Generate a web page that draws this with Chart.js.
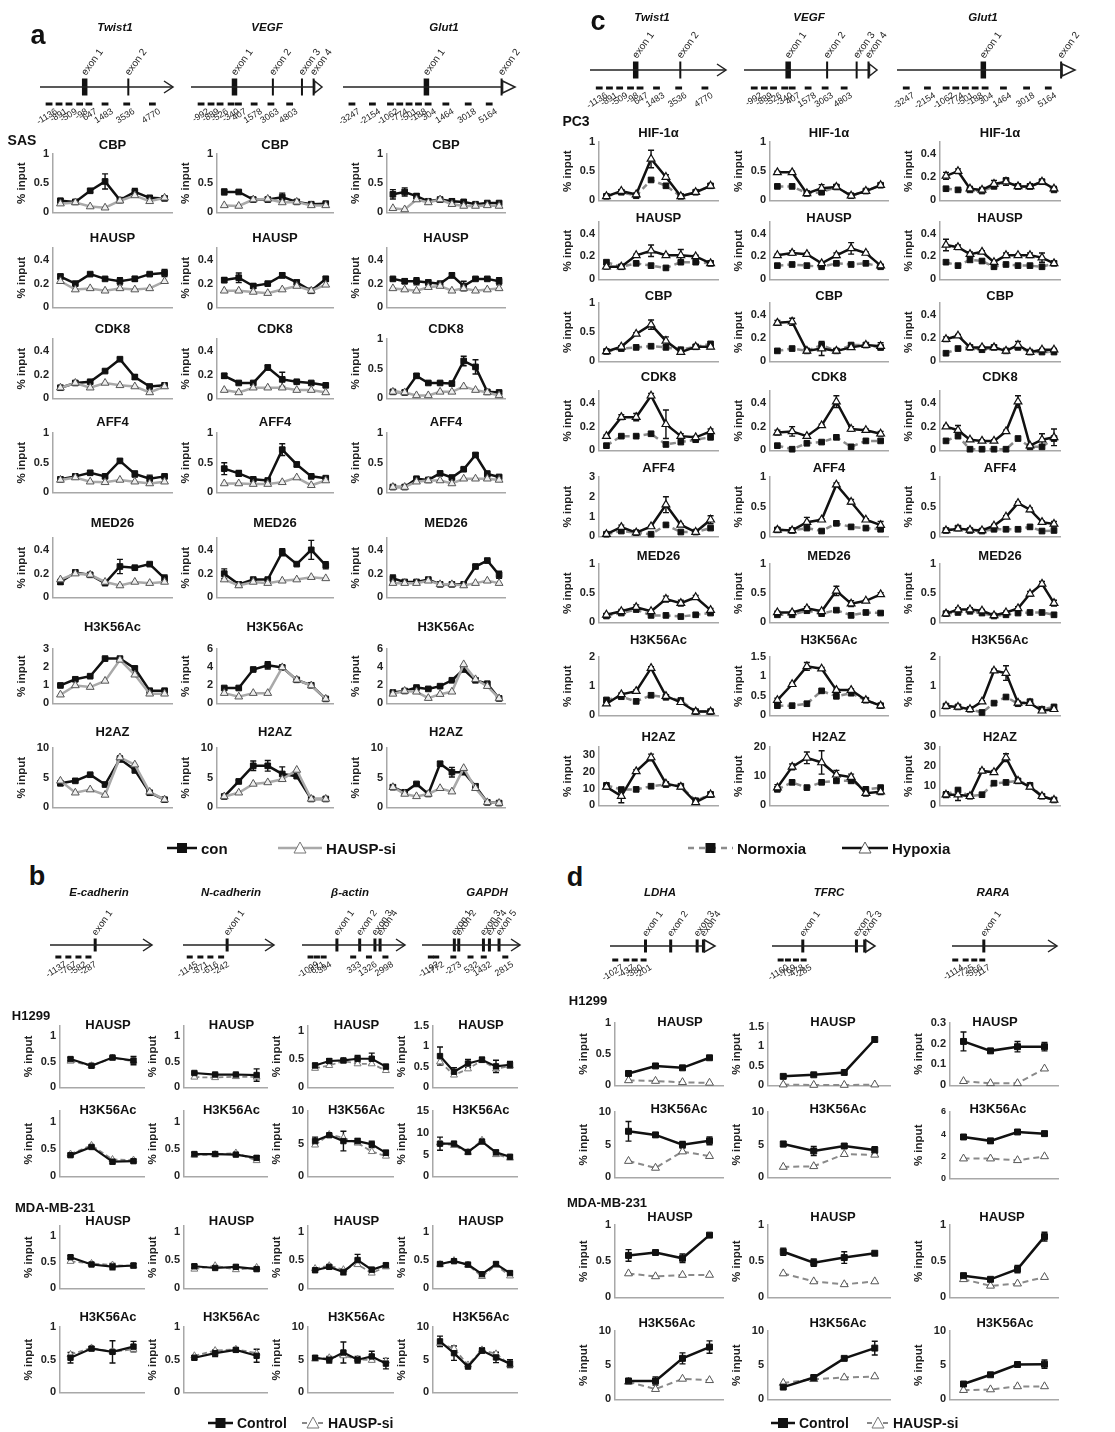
<!DOCTYPE html>
<html>
<head>
<meta charset="utf-8">
<script src="https://cdn.jsdelivr.net/npm/chart.js@4.4.1/dist/chart.umd.min.js"></script>
<style>
  body { margin: 0; background: #fff; }
  #page { position: relative; width: 1115px; height: 1432px; overflow: hidden; background: #fff;
          font-family: "Liberation Sans", Arial, Helvetica, sans-serif; color: #111; }
  .lbl { position: absolute; font-weight: bold; white-space: nowrap; line-height: 1; }
  canvas { position: absolute; }
</style>
</head>
<body>
<div id="page"></div>
<script>
// ---------- panel a : SAS, con vs HAUSP-si ----------
const aGenes = ['Twist1', 'VEGF', 'Glut1'];
const aTargets = ['CBP', 'HAUSP', 'CDK8', 'AFF4', 'MED26', 'H3K56Ac', 'H2AZ'];

const aCBPcon = [[0.2,0.18,0.37,0.53,0.21,0.35,0.25,0.24],[0.35,0.35,0.22,0.22,0.26,0.18,0.14,0.15],[0.31,0.35,0.28,0.19,0.22,0.19,0.18,0.14,0.16,0.16]];
const aCBPsi = [[0.15,0.17,0.1,0.08,0.2,0.29,0.19,0.25],[0.12,0.11,0.22,0.23,0.17,0.18,0.12,0.12],[0.07,0.05,0.22,0.17,0.22,0.14,0.11,0.11,0.12,0.11]];
const aCBPerr = [[0.03,0.02,0.03,0.13,0.02,0.06,0.03,0.03],[0.05,0.02,0.02,0.02,0.07,0.02,0.02,0.02],[0.08,0.07,0.04,0.02,0.02,0.04,0.03,0.02,0.02,0.02]];

const aHAUSPcon = [[0.26,0.2,0.28,0.24,0.22,0.24,0.28,0.29],[0.23,0.25,0.18,0.2,0.27,0.21,0.14,0.24],[0.24,0.22,0.22,0.21,0.2,0.27,0.18,0.24,0.24,0.22]];
const aHAUSPsi = [[0.22,0.15,0.16,0.14,0.16,0.15,0.16,0.22],[0.14,0.14,0.13,0.12,0.15,0.18,0.14,0.19],[0.16,0.15,0.14,0.17,0.18,0.14,0.16,0.14,0.15,0.16]];
const aHAUSPerr = [[0.02,0.01,0.01,0.01,0.03,0.02,0.01,0.03],[0.02,0.04,0.02,0.01,0.02,0.02,0.01,0.02],[0.01,0.02,0.03,0.02,0.01,0.02,0.04,0.01,0.01,0.03]];

const aCDK8con = [[0.09,0.13,0.14,0.23,0.33,0.18,0.1,0.11],[0.19,0.13,0.13,0.26,0.16,0.14,0.13,0.11],[0.11,0.1,0.38,0.26,0.26,0.25,0.63,0.53,0.11,0.1]];
const aCDK8si = [[0.09,0.13,0.09,0.13,0.11,0.1,0.05,0.1],[0.07,0.05,0.09,0.09,0.09,0.07,0.07,0.05],[0.11,0.1,0.05,0.05,0.11,0.11,0.2,0.14,0.1,0.05]];
const aCDK8err = [[0.01,0.01,0.01,0.01,0.01,0.02,0.01,0.01],[0.02,0.01,0.01,0.02,0.06,0.01,0.01,0.01],[0.02,0.02,0.03,0.02,0.02,0.02,0.08,0.12,0.02,0.02]];

const aAFF4con = [[0.22,0.27,0.33,0.27,0.53,0.31,0.23,0.27],[0.4,0.32,0.22,0.2,0.72,0.47,0.27,0.24],[0.09,0.09,0.23,0.21,0.32,0.25,0.39,0.63,0.31,0.26]];
const aAFF4si = [[0.21,0.25,0.18,0.17,0.21,0.18,0.15,0.18],[0.15,0.15,0.14,0.14,0.17,0.25,0.12,0.2],[0.09,0.09,0.18,0.2,0.2,0.15,0.23,0.23,0.23,0.21]];
const aAFF4err = [[0.02,0.02,0.03,0.02,0.03,0.05,0.06,0.02],[0.1,0.05,0.02,0.02,0.1,0.04,0.02,0.02],[0.01,0.01,0.02,0.02,0.02,0.02,0.02,0.03,0.05,0.02]];

const aMED26con = [[0.13,0.21,0.19,0.12,0.26,0.25,0.28,0.16],[0.2,0.11,0.15,0.15,0.38,0.28,0.4,0.27],[0.16,0.13,0.13,0.15,0.11,0.11,0.11,0.26,0.31,0.19]];
const aMED26si = [[0.15,0.2,0.19,0.13,0.1,0.13,0.12,0.13],[0.15,0.1,0.13,0.12,0.14,0.15,0.17,0.16],[0.12,0.12,0.12,0.14,0.11,0.11,0.1,0.12,0.14,0.12]];
const aMED26err = [[0.02,0.02,0.01,0.01,0.06,0.01,0.01,0.03],[0.04,0.01,0.01,0.01,0.03,0.01,0.08,0.03],[0.03,0.01,0.01,0.01,0.01,0.01,0.01,0.01,0.01,0.03]];

const aH3con = [[0.99,1.33,1.5,2.47,2.47,1.93,0.7,0.7],[1.7,1.7,3.74,4.2,3.97,2.6,2.0,0.5],[1.2,1.37,1.75,1.6,1.9,2.55,3.74,2.55,2.17,0.55]];
const aH3si = [[0.48,0.99,0.9,1.24,2.4,1.58,0.53,0.53],[1.13,0.74,1.13,1.13,3.97,2.6,1.97,0.5],[1.05,1.37,1.28,0.58,1.02,1.28,4.3,2.65,1.9,0.55]];
const aH3err = [[0.05,0.05,0.05,0.05,0.05,0.1,0.05,0.05],[0.1,0.1,0.1,0.4,0.2,0.1,0.1,0.1],[0.1,0.1,0.1,0.1,0.1,0.1,0.2,0.1,0.1,0.1]];

const aH2AZcon = [[4.05,4.47,5.5,3.85,8.15,6.3,2.47,1.3],[1.84,4.37,7.0,7.0,5.63,5.26,1.42,1.42],[3.4,2.54,3.95,2.26,7.34,5.93,5.93,3.56,0.85,0.73]];
const aH2AZsi = [[4.47,2.47,3.0,2.1,8.4,7.2,2.6,1.3],[1.84,2.47,3.95,4.2,4.73,6.3,1.42,1.42],[3.4,2.26,1.86,2.26,3.22,2.65,6.6,3.22,0.85,0.73]];
const aH2AZerr = [[0.2,0.2,0.2,0.2,0.5,0.5,0.2,0.2],[0.2,0.2,0.8,0.9,1.2,0.3,0.2,0.2],[0.3,0.2,0.2,0.2,0.4,0.8,0.3,0.3,0.2,0.2]];

const aYMax = [[1,1,1],[0.5,0.5,0.5],[0.5,0.5,1],[1,1,1],[0.5,0.5,0.5],[3,6,6],[10,10,10]];
const aYStep = [[0.5,0.5,0.5],[0.2,0.2,0.2],[0.2,0.2,0.5],[0.5,0.5,0.5],[0.2,0.2,0.2],[1,2,2],[5,5,5]];

// ---------- panel c : PC3, Normoxia vs Hypoxia ----------
const cTargets = ['HIF-1α', 'HAUSP', 'CBP', 'CDK8', 'AFF4', 'MED26', 'H3K56Ac', 'H2AZ'];

const cHIFhyp = [[0.07,0.16,0.1,0.71,0.4,0.07,0.14,0.25],[0.48,0.48,0.12,0.21,0.23,0.08,0.16,0.26],[0.21,0.25,0.1,0.09,0.14,0.16,0.12,0.12,0.16,0.1]];
const cHIFnorm = [[0.07,0.14,0.08,0.35,0.25,0.07,0.14,0.25],[0.24,0.24,0.12,0.14,0.23,0.08,0.16,0.26],[0.1,0.09,0.09,0.08,0.12,0.17,0.12,0.12,0.16,0.09]];
const cHIFerr = [[0.02,0.02,0.02,0.15,0.04,0.02,0.02,0.03],[0.02,0.02,0.02,0.06,0.03,0.02,0.02,0.02],[0.03,0.02,0.02,0.02,0.03,0.03,0.02,0.02,0.02,0.02]];

const cHAUSPhyp = [[0.11,0.11,0.21,0.25,0.21,0.21,0.2,0.14],[0.21,0.23,0.22,0.14,0.21,0.27,0.23,0.12],[0.3,0.28,0.22,0.24,0.15,0.21,0.21,0.21,0.19,0.14]];
const cHAUSPnorm = [[0.15,0.11,0.14,0.12,0.1,0.15,0.15,0.14],[0.12,0.13,0.12,0.11,0.14,0.13,0.14,0.11],[0.15,0.12,0.17,0.16,0.11,0.13,0.12,0.12,0.11,0.14]];
const cHAUSPerr = [[0.02,0.01,0.01,0.05,0.01,0.05,0.01,0.02],[0.01,0.02,0.01,0.01,0.02,0.05,0.01,0.01],[0.05,0.02,0.02,0.01,0.01,0.02,0.01,0.02,0.04,0.01]];

const cCBPhyp = [[0.17,0.25,0.47,0.63,0.35,0.16,0.25,0.25],[0.33,0.34,0.09,0.11,0.09,0.12,0.14,0.13],[0.19,0.22,0.12,0.12,0.12,0.09,0.14,0.08,0.1,0.1]];
const cCBPnorm = [[0.17,0.22,0.24,0.26,0.24,0.2,0.25,0.3],[0.09,0.11,0.09,0.14,0.09,0.14,0.14,0.12],[0.07,0.11,0.12,0.1,0.12,0.09,0.12,0.08,0.08,0.08]];
const cCBPerr = [[0.02,0.02,0.02,0.08,0.07,0.02,0.02,0.03],[0.02,0.03,0.01,0.06,0.01,0.01,0.01,0.03],[0.02,0.01,0.01,0.01,0.01,0.01,0.03,0.01,0.01,0.01]];

const cCDK8hyp = [[0.12,0.28,0.28,0.46,0.22,0.12,0.11,0.16],[0.15,0.16,0.12,0.21,0.41,0.18,0.17,0.14],[0.2,0.17,0.09,0.08,0.08,0.16,0.41,0.04,0.09,0.11]];
const cCDK8norm = [[0.04,0.12,0.12,0.14,0.05,0.07,0.09,0.11],[0.04,0.01,0.06,0.07,0.11,0.03,0.08,0.08],[0.08,0.12,0.01,0.01,0.01,0.01,0.1,0.03,0.03,0.1]];
const cCDK8err = [[0.01,0.02,0.03,0.02,0.12,0.02,0.01,0.02],[0.02,0.04,0.01,0.01,0.05,0.02,0.01,0.02],[0.01,0.04,0.01,0.01,0.01,0.01,0.05,0.01,0.05,0.07]];

const cAFF4hyp = [[0.11,0.47,0.19,0.5,1.6,0.58,0.22,0.84],[0.11,0.1,0.24,0.28,0.87,0.58,0.28,0.19],[0.1,0.13,0.11,0.1,0.18,0.33,0.56,0.45,0.24,0.21]];
const cAFF4norm = [[0.11,0.27,0.19,0.11,0.58,0.22,0.22,0.42],[0.11,0.1,0.14,0.09,0.22,0.16,0.14,0.12],[0.1,0.14,0.1,0.09,0.12,0.12,0.12,0.16,0.09,0.1]];
const cAFF4err = [[0.05,0.1,0.05,0.05,0.4,0.05,0.05,0.2],[0.02,0.02,0.08,0.02,0.03,0.04,0.02,0.06],[0.01,0.02,0.01,0.01,0.02,0.02,0.02,0.03,0.02,0.04]];

const cMED26hyp = [[0.13,0.19,0.26,0.19,0.4,0.33,0.43,0.21],[0.17,0.17,0.24,0.19,0.54,0.32,0.37,0.48],[0.15,0.22,0.22,0.2,0.12,0.17,0.24,0.49,0.66,0.33]];
const cMED26norm = [[0.11,0.16,0.22,0.12,0.12,0.1,0.13,0.16],[0.13,0.13,0.2,0.15,0.21,0.12,0.17,0.16],[0.15,0.17,0.19,0.16,0.11,0.13,0.16,0.17,0.17,0.13]];
const cMED26err = [[0.02,0.03,0.04,0.02,0.05,0.05,0.03,0.03],[0.02,0.02,0.03,0.02,0.08,0.05,0.02,0.03],[0.02,0.03,0.03,0.02,0.02,0.02,0.03,0.04,0.04,0.05]];

const cH3hyp = [[0.4,0.72,0.83,1.62,0.66,0.45,0.13,0.13],[0.39,0.8,1.26,1.2,0.65,0.65,0.39,0.25],[0.32,0.29,0.21,0.47,1.53,1.45,0.43,0.42,0.16,0.21]];
const cH3norm = [[0.53,0.64,0.48,0.69,0.62,0.51,0.13,0.13],[0.25,0.25,0.3,0.63,0.49,0.57,0.39,0.25],[0.32,0.29,0.21,0.1,0.42,0.63,0.4,0.47,0.21,0.29]];
const cH3err = [[0.05,0.05,0.05,0.05,0.05,0.05,0.03,0.03],[0.05,0.03,0.1,0.03,0.03,0.03,0.03,0.03],[0.03,0.03,0.03,0.03,0.05,0.25,0.05,0.05,0.02,0.02]];

const cH2AZhyp = [[11.1,5.6,20.4,28.7,13,11.1,1.85,6.5],[6.1,13.2,16.3,14.7,10.5,9.7,4.2,4.7],[5.5,5.5,4.7,17.7,17,24.5,12.6,9.5,4.7,2.8]];
const cH2AZnorm = [[12,9.5,9.6,11.5,12.5,11.5,2.8,6.5],[5.5,7.9,6.1,7.9,8.4,8.4,5.5,6.1],[5.5,7.9,4.7,5.5,11.4,11.8,12.6,10.3,4.7,2.8]];
const cH2AZerr = [[1.5,4,1,2,1,1,0.5,1.5],[1,1,2,4,1.5,1,1,1],[1.5,3,1,1,1,2,1,1,0.5,0.5]];

const cYMax = [[1,1,0.5],[0.5,0.5,0.5],[1,0.5,0.5],[0.5,0.5,0.5],[3,1,1],[1,1,1],[2,1.5,2],[35,20,30]];
const cYStep = [[0.5,0.5,0.2],[0.2,0.2,0.2],[0.5,0.2,0.2],[0.2,0.2,0.2],[1,0.5,0.5],[0.5,0.5,0.5],[1,0.5,1],[10,10,10]];

// ---------- panel b : Control vs HAUSP-si ----------
const bGenes = ['E-cadherin', 'N-cadherin', 'β-actin', 'GAPDH'];
const bTargets = ['HAUSP', 'H3K56Ac', 'HAUSP', 'H3K56Ac'];

const bHausp1Con = [[0.55,0.42,0.58,0.52],[0.28,0.25,0.25,0.24],[0.39,0.47,0.48,0.51,0.51,0.37],[0.76,0.38,0.58,0.67,0.51,0.55]];
const bHausp1Si = [[0.51,0.42,0.57,0.51],[0.2,0.19,0.21,0.2],[0.34,0.39,0.47,0.42,0.42,0.3],[0.62,0.3,0.45,0.65,0.45,0.52]];
const bHausp1Err = [[0.03,0.02,0.02,0.08],[0.02,0.02,0.02,0.12],[0.04,0.04,0.02,0.06,0.1,0.04],[0.22,0.1,0.1,0.06,0.15,0.08]];
const bAc1Con = [[0.39,0.54,0.27,0.28],[0.41,0.41,0.4,0.34],[5.4,6.3,5.4,5.4,4.9,3.6],[7.5,7.5,5.6,8.0,5.5,4.5]];
const bAc1Si = [[0.41,0.57,0.31,0.3],[0.39,0.4,0.43,0.29],[4.8,6.4,5.9,5.1,3.8,3.1],[7.7,7.1,5.5,8.3,5.0,4.2]];
const bAc1Err = [[0.03,0.03,0.04,0.03],[0.03,0.03,0.03,0.04],[0.6,0.2,1.5,0.4,0.5,0.4],[1.5,0.5,0.4,0.4,0.5,0.3]];
const bHausp2Con = [[0.6,0.46,0.42,0.44],[0.39,0.36,0.38,0.34],[0.32,0.38,0.29,0.5,0.33,0.41],[0.43,0.48,0.42,0.25,0.43,0.27]];
const bHausp2Si = [[0.52,0.48,0.45,0.43],[0.34,0.4,0.33,0.37],[0.35,0.4,0.33,0.42,0.27,0.38],[0.42,0.49,0.41,0.21,0.41,0.22]];
const bHausp2Err = [[0.03,0.02,0.06,0.04],[0.03,0.02,0.03,0.03],[0.03,0.03,0.05,0.1,0.04,0.03],[0.03,0.03,0.02,0.02,0.03,0.03]];
const bAc2Con = [[0.53,0.67,0.62,0.7],[0.53,0.6,0.65,0.56],[5.3,5.0,6.1,5.0,5.5,4.4],[7.8,6.0,3.95,6.4,5.35,4.4]];
const bAc2Si = [[0.58,0.68,0.62,0.66],[0.56,0.64,0.66,0.6],[5.1,5.3,5.6,5.1,4.9,4.8],[7.5,6.7,4.2,6.5,5.9,4.2]];
const bAc2Err = [[0.08,0.03,0.17,0.08],[0.03,0.05,0.03,0.1],[0.3,0.5,1.6,0.5,0.8,0.8],[0.8,1.1,0.2,0.4,0.8,0.6]];

const bYMax = [[1.2,1.2,1.1,1.5],[1.2,1.2,10,15],[1.2,1.1,1.1,1.1],[1,1,10,10]];
const bYStep = [[0.5,0.5,0.5,0.5],[0.5,0.5,5,5],[0.5,0.5,0.5,0.5],[0.5,0.5,5,5]];

// ---------- panel d : Control vs HAUSP-si ----------
const dGenes = ['LDHA', 'TFRC', 'RARA'];
const dTargets = ['HAUSP', 'H3K56Ac', 'HAUSP', 'H3K56Ac'];

const dHausp1Con = [[0.19,0.31,0.28,0.44],[0.23,0.27,0.33,1.17],[0.21,0.165,0.185,0.185]];
const dHausp1Si = [[0.08,0.07,0.05,0.04],[0.02,0.01,0.01,0.02],[0.02,0.01,0.01,0.08]];
const dHausp1Err = [[0.03,0.02,0.02,0.02],[0.04,0.03,0.03,0.06],[0.045,0.008,0.025,0.02]];
const dAc1Con = [[7.05,6.5,5.0,5.6],[5.1,4.05,4.8,4.2],[3.75,3.4,4.2,4.05]];
const dAc1Si = [[2.5,1.45,3.95,3.25],[1.6,1.7,3.55,3.45],[1.8,1.8,1.65,2.0]];
const dAc1Err = [[1.5,0.3,0.5,0.6],[0.4,0.7,0.3,0.5],[0.2,0.2,0.15,0.2]];
const dHausp2Con = [[0.58,0.62,0.54,0.86],[0.63,0.48,0.55,0.61],[0.3,0.25,0.39,0.84]];
const dHausp2Si = [[0.33,0.29,0.31,0.31],[0.33,0.22,0.18,0.22],[0.25,0.16,0.19,0.28]];
const dHausp2Err = [[0.08,0.02,0.06,0.01],[0.05,0.05,0.08,0.01],[0.03,0.02,0.05,0.06]];
const dAc2Con = [[2.7,2.7,6.0,7.65],[1.8,3.2,6.0,7.5],[2.25,3.6,5.1,5.15]];
const dAc2Si = [[2.57,1.5,3.0,2.8],[2.4,2.95,3.2,3.35],[1.35,1.45,1.9,1.9]];
const dAc2Err = [[0.3,0.6,0.8,0.9],[0.2,0.3,0.2,1.0],[0.2,0.2,0.1,0.6]];

const dYMax = [[1,1.6,0.3],[10,10,6],[1,1,1],[10,10,10]];
const dYStep = [[0.5,0.5,0.1],[5,5,2],[0.5,0.5,0.5],[5,5,5]];

// ---------- gene maps (schematic position along the drawn line, 0-100) ----------
const twist1ExonPos = [33.6, 66.4], twist1ExonLbl = ['exon 1', 'exon 2'], twist1ExonThick = [1, 0];
const twist1PrimerPos = [6.8, 14.3, 21.8, 29.8, 36.8, 48.9, 65.2, 84.5];
const twist1PrimerLbl = ['-1136', '-891', '-509', '-98', '647', '1483', '3536', '4770'];
const vegfExonPos = [33.2, 62.5, 84.7, 93.6], vegfExonLbl = ['exon 1', 'exon 2', 'exon 3', 'exon 4'], vegfExonThick = [1, 0, 0, 0];
const vegfPrimerPos = [7.7, 15.3, 22.2, 30.6, 36.2, 48.2, 61, 75.3];
const vegfPrimerLbl = ['-992', '-889', '-526', '-340', '407', '1578', '3063', '4803'];
const glut1ExonPos = [48.5, 92.2], glut1ExonLbl = ['exon 1', 'exon 2'], glut1ExonThick = [1, 0];
const glut1PrimerPos = [5.2, 17.1, 27.6, 33, 38.4, 43.9, 49.5, 59.8, 72.8, 85];
const glut1PrimerLbl = ['-3247', '-2154', '-1062', '-774', '-501', '-188', '304', '1464', '3018', '5164'];

const ecadExonPos = [44.3], ecadExonLbl = ['exon 1'];
const ecadPrimerPos = [8.2, 18, 27.9, 37.7], ecadPrimerLbl = ['-1137', '-767', '-582', '-287'];
const ncadExonPos = [48.5], ncadExonLbl = ['exon 1'];
const ncadPrimerPos = [7.4, 19.1, 30.1, 41.9], ncadPrimerLbl = ['-1145', '-871', '-616', '-242'];
const actbExonPos = [33.9, 56, 70.8, 75.8], actbExonLbl = ['exon 1', 'exon 2', 'exon 3', 'exon 4'];
const actbPrimerPos = [8.3, 14.5, 21, 49.7, 65, 81], actbPrimerLbl = ['-1099', '-671', '-394', '333', '1326', '2998'];
const gapdhExonPos = [33, 37.5, 62.7, 68.8, 78.6], gapdhExonLbl = ['exon 1', 'exon 2', 'exon 3', 'exon 4', 'exon 5'];
const gapdhPrimerPos = [9, 14.5, 32, 49.5, 63, 85], gapdhPrimerLbl = ['-1192', '-772', '-273', '532', '1432', '2815'];

const ldhaExonPos = [33.8, 57.8, 83, 89], ldhaExonLbl = ['exon 1', 'exon 2', 'exon 3', 'exon 4'];
const ldhaPrimerPos = [5, 15.5, 23.5, 32], ldhaPrimerLbl = ['-1027', '-437', '-380', '-201'];
const tfrcExonPos = [29.9, 82, 90], tfrcExonLbl = ['exon 1', 'exon 2', 'exon 3'];
const tfrcPrimerPos = [8.4, 15.5, 23.3, 30.7], tfrcPrimerLbl = ['-1160', '-769', '-478', '-285'];
const raraExonPos = [30.3], raraExonLbl = ['exon 1'];
const raraPrimerPos = [3.1, 13, 21.2, 28.8], raraPrimerLbl = ['-1114', '-725', '-566', '-117'];

// ---------- layout ----------
const aColX = [53, 217, 387], aColR = [172, 333, 505];
const aRowZero = [217, 312, 403, 497, 602, 708, 812];
const aRowTop = [154, 248, 339, 433, 538, 649, 748];
const aRowTitle = [145, 238, 329, 422, 523, 627, 732];

const cColX = [599, 770, 940], cColR = [718, 888, 1060];
const cRowZero = [205, 284, 366, 455, 541, 627, 720, 810];
const cRowTop = [142, 222, 303, 391, 477, 564, 657, 747];
const cRowTitle = [133, 218, 296, 377, 468, 556, 640, 737];

const bColX = [60, 184, 308, 433], bColR = [144, 267, 393, 517];
const bRowZero = [1092, 1181, 1293, 1397];
const bRowTop = [1021, 1111, 1226, 1327];
const bRowTitle = [1025, 1110, 1221, 1317];

const dColX = [615, 768, 950], dColR = [723, 890, 1058];
const dRowZero = [1090, 1182, 1302, 1404];
const dRowTop = [1020, 1112, 1225, 1331];
const dRowTitle = [1022, 1109, 1217, 1323];
const dTitleDx = [[11, 4, -9], [10, 9, -6], [1, 4, -2], [-2, 9, 1]];

const FONT = '"Liberation Sans", Arial, Helvetica, sans-serif';
Chart.defaults.font.family = FONT;
Chart.defaults.color = '#222';

const page = document.getElementById('page');

function txt(s, cx, cy, size, italic) {
    const d = document.createElement('div');
    d.className = 'lbl';
    d.textContent = s;
    d.style.left = cx + 'px';
    d.style.top = cy + 'px';
    d.style.fontSize = size + 'px';
    d.style.transform = 'translate(-50%, -50%)';
    if (italic) d.style.fontStyle = 'italic';
    page.appendChild(d);
}

function mkCanvas(left, top, w, h) {
    const c = document.createElement('canvas');
    w = Math.round(w); h = Math.round(h);
    c.width = w; c.height = h;
    c.style.left = Math.round(left) + 'px';
    c.style.top = Math.round(top) + 'px';
    c.style.width = w + 'px';
    c.style.height = h + 'px';
    page.appendChild(c);
    return c;
}

// series looks
const conStyle = { borderColor: '#111', borderWidth: 2.5, pointStyle: 'rect', pointRadius: 4, pointBackgroundColor: '#111', pointBorderColor: '#111', pointBorderWidth: 1 };
const siStyleA = { borderColor: '#a9a9a9', borderWidth: 2.5, pointStyle: 'triangle', pointRadius: 4.5, pointBackgroundColor: '#eee', pointBorderColor: '#555', pointBorderWidth: 1 };
const normStyle = { borderColor: '#8c8c8c', borderWidth: 2.5, borderDash: [6, 4], pointStyle: 'rect', pointRadius: 4, pointBackgroundColor: '#111', pointBorderColor: '#111', pointBorderWidth: 1 };
const hypStyle = { borderColor: '#111', borderWidth: 2.5, pointStyle: 'triangle', pointRadius: 4.5, pointBackgroundColor: '#fff', pointBorderColor: '#111', pointBorderWidth: 1.2 };
const ctlStyleB = { borderColor: '#111', borderWidth: 2.2, pointStyle: 'rect', pointRadius: 3.8, pointBackgroundColor: '#111', pointBorderColor: '#111', pointBorderWidth: 1 };
const siStyleB = { borderColor: '#888', borderWidth: 1.8, borderDash: [5, 3], pointStyle: 'triangle', pointRadius: 4, pointBackgroundColor: '#fff', pointBorderColor: '#777', pointBorderWidth: 1 };
const ctlStyleD = { borderColor: '#111', borderWidth: 2.5, pointStyle: 'rect', pointRadius: 4.2, pointBackgroundColor: '#111', pointBorderColor: '#111', pointBorderWidth: 1 };
const siStyleD = { borderColor: '#8a8a8a', borderWidth: 2, borderDash: [6, 4], pointStyle: 'triangle', pointRadius: 4.6, pointBackgroundColor: '#fff', pointBorderColor: '#555', pointBorderWidth: 1 };

// error bars under the lines, read from dataset.errors
const errorBars = {
    id: 'errorBars',
    beforeDatasetsDraw(chart) {
        const ctx = chart.ctx, ys = chart.scales.y;
        chart.data.datasets.forEach((ds, i) => {
            if (!ds.errors) return;
            const meta = chart.getDatasetMeta(i);
            ctx.save();
            ctx.strokeStyle = ds.borderColor;
            ctx.lineWidth = 1.4;
            ctx.setLineDash([]);
            meta.data.forEach((pt, j) => {
                const e = ds.errors[j];
                if (!e) return;
                const v = ds.data[j];
                const y1 = ys.getPixelForValue(Math.max(0, v - e)), y2 = ys.getPixelForValue(v + e);
                ctx.beginPath();
                ctx.moveTo(pt.x, y1); ctx.lineTo(pt.x, y2);
                ctx.moveTo(pt.x - 3, y1); ctx.lineTo(pt.x + 3, y1);
                ctx.moveTo(pt.x - 3, y2); ctx.lineTo(pt.x + 3, y2);
                ctx.stroke();
            });
            ctx.restore();
        });
    }
};

function lineCell(o) {
    const yW = 38, padR = 6, padB = 6;
    const cTop = Math.min(o.titleY - 10, o.top - 6);
    const cv = mkCanvas(o.x - yW, cTop, o.r - o.x + yW + padR, o.zero + padB - cTop);
    const tickVals = [];
    for (let i = 0; i * o.step <= o.max + 1e-9; i++) tickVals.push(Math.round(i * o.step * 1000) / 1000);
    const title = {
        id: 'cellTitle',
        afterDraw(chart) {
            const ctx = chart.ctx, a = chart.chartArea;
            ctx.save();
            ctx.font = 'bold 13px ' + FONT;
            ctx.fillStyle = '#111';
            ctx.textAlign = 'center';
            ctx.textBaseline = 'middle';
            ctx.fillText(o.title, (a.left + a.right) / 2 + (o.dx || 0), o.titleY - cTop);
            ctx.restore();
        }
    };
    new Chart(cv, {
        type: 'line',
        data: {
            labels: o.series[0].data.map((_, i) => 'P' + (i + 1)),
            datasets: o.series.map(s => Object.assign({ data: s.data, errors: s.errors, clip: false, tension: 0, fill: false }, s.style))
        },
        options: {
            responsive: false, animation: false, devicePixelRatio: 1,
            layout: { padding: { top: o.top - cTop, right: padR, left: 0, bottom: 0 } },
            plugins: { legend: { display: false }, tooltip: { enabled: false } },
            scales: {
                x: {
                    offset: true,
                    grid: { display: false, drawTicks: false },
                    ticks: { display: false },
                    border: { color: '#a8a8a8', width: 1.5 },
                    afterFit(s) { s.height = padB; }
                },
                y: {
                    min: 0, max: o.max,
                    grid: { display: false, drawTicks: false },
                    border: { color: '#a8a8a8', width: 1.5 },
                    ticks: { font: { weight: 'bold', size: o.tickSize || 11 }, color: '#222', padding: 4,
                             callback: v => String(Math.round(v * 100) / 100) },
                    afterBuildTicks(s) { s.ticks = tickVals.map(v => ({ value: v })); },
                    afterFit(s) { s.width = yW; },
                    title: { display: true, text: '% input', font: { weight: 'bold', size: 11.5 }, color: '#222', padding: 0 }
                }
            }
        },
        plugins: [errorBars, title]
    });
}

function geneCell(def, x0, len, yLine, g) {
    const padL = 30, padR = 24, up = 50, down = 48;
    const cv = mkCanvas(x0 - padL, yLine - up, len + padL + padR, up + down);
    const u = len / 100;
    const lineEnd = def.end === 'tri' ? def.exonPos[def.exonPos.length - 1] : 100;
    const deco = {
        id: 'geneDeco',
        afterDatasetsDraw(chart) {
            const ctx = chart.ctx, xs = chart.scales.x, ys = chart.scales.y;
            const y0 = ys.getPixelForValue(0), xe = xs.getPixelForValue(100);
            ctx.save();
            ctx.strokeStyle = '#222';
            ctx.fillStyle = '#fff';
            ctx.lineWidth = 1.5;
            ctx.beginPath();
            if (def.end === 'tri') {
                const xb = xs.getPixelForValue(lineEnd) + 1;
                ctx.moveTo(xb, y0 - 6); ctx.lineTo(xe, y0); ctx.lineTo(xb, y0 + 6); ctx.closePath();
                ctx.fill(); ctx.stroke();
            } else {
                ctx.moveTo(xe - 9, y0 - 6); ctx.lineTo(xe, y0); ctx.lineTo(xe - 9, y0 + 6);
                ctx.stroke();
            }
            ctx.fillStyle = '#222';
            ctx.font = g.exonFont + 'px ' + FONT;
            ctx.textAlign = 'left';
            ctx.textBaseline = 'middle';
            def.exonLbl.forEach((s, i) => {
                ctx.save();
                ctx.translate(xs.getPixelForValue(def.exonPos[i]) - 1, y0 - g.exonR - 4);
                ctx.rotate(-0.95);
                ctx.fillText(s, 0, 0);
                ctx.restore();
            });
            ctx.font = g.primerFont + 'px ' + FONT;
            ctx.textAlign = 'right';
            ctx.textBaseline = 'top';
            const yd = ys.getPixelForValue(-g.dy);
            def.primerLbl.forEach((s, i) => {
                ctx.save();
                ctx.translate(xs.getPixelForValue(def.primerPos[i]) + 5, yd + 3);
                ctx.rotate(-0.55);
                ctx.fillText(s, 0, 0);
                ctx.restore();
            });
            ctx.restore();
        }
    };
    new Chart(cv, {
        type: 'scatter',
        data: {
            datasets: [
                { data: [{ x: 0, y: 0 }, { x: lineEnd, y: 0 }], showLine: true, borderColor: '#222', borderWidth: 1.5, pointRadius: 0 },
                { data: def.exonPos.map(x => ({ x, y: 0 })), pointStyle: 'line', pointRotation: 90, pointRadius: g.exonR,
                  pointBorderColor: '#111', pointBorderWidth: def.exonPos.map((_, i) => def.exonThick && def.exonThick[i] ? g.thickW : g.thinW) },
                { data: def.primerPos.map(x => ({ x, y: -g.dy })), pointStyle: 'line', pointRadius: g.dashR,
                  pointBorderColor: '#111', pointBorderWidth: g.dashW }
            ]
        },
        options: {
            responsive: false, animation: false, devicePixelRatio: 1,
            layout: { padding: 0, autoPadding: false },
            plugins: { legend: { display: false }, tooltip: { enabled: false } },
            scales: {
                x: { type: 'linear', display: false, min: -padL / u, max: 100 + padR / u },
                y: { type: 'linear', display: false, min: -down, max: up }
            }
        },
        plugins: [deco]
    });
}

function legendItem(x, y, w, sym, label, size) {
    const d = document.createElement('div');
    d.className = 'lbl';
    d.style.left = x + 'px';
    d.style.top = (y - 10) + 'px';
    d.style.display = 'flex';
    d.style.alignItems = 'center';
    d.style.height = '20px';
    const m = w / 2;
    const mark = sym.marker === 'rect'
        ? `<rect x="${m - 5}" y="5" width="10" height="10" fill="#111"/>`
        : `<polygon points="${m},4 ${m - 6},15 ${m + 6},15" fill="#fff" stroke="${sym.mstroke}" stroke-width="1"/>`;
    d.innerHTML = `<svg width="${w}" height="20" style="display:block"><line x1="0" y1="10" x2="${w}" y2="10" stroke="${sym.color}" stroke-width="${sym.lw}" ${sym.dash ? `stroke-dasharray="${sym.dash}"` : ''}/>${mark}</svg>` +
        `<span style="margin-left:4px;font-size:${size}px">${label}</span>`;
    page.appendChild(d);
}

// ---------- build panel a ----------
const aCon = [aCBPcon, aHAUSPcon, aCDK8con, aAFF4con, aMED26con, aH3con, aH2AZcon];
const aSi = [aCBPsi, aHAUSPsi, aCDK8si, aAFF4si, aMED26si, aH3si, aH2AZsi];
const aErr = [aCBPerr, aHAUSPerr, aCDK8err, aAFF4err, aMED26err, aH3err, aH2AZerr];
aTargets.forEach((t, r) => aGenes.forEach((g, c) => lineCell({
    x: aColX[c], r: aColR[c], zero: aRowZero[r], top: aRowTop[r], titleY: aRowTitle[r], title: t,
    max: aYMax[r][c], step: aYStep[r][c],
    series: [{ data: aSi[r][c], style: siStyleA }, { data: aCon[r][c], errors: aErr[r][c], style: conStyle }]
})));

// ---------- build panel c ----------
const cHyp = [cHIFhyp, cHAUSPhyp, cCBPhyp, cCDK8hyp, cAFF4hyp, cMED26hyp, cH3hyp, cH2AZhyp];
const cNorm = [cHIFnorm, cHAUSPnorm, cCBPnorm, cCDK8norm, cAFF4norm, cMED26norm, cH3norm, cH2AZnorm];
const cErr = [cHIFerr, cHAUSPerr, cCBPerr, cCDK8err, cAFF4err, cMED26err, cH3err, cH2AZerr];
cTargets.forEach((t, r) => aGenes.forEach((g, c) => lineCell({
    x: cColX[c], r: cColR[c], zero: cRowZero[r], top: cRowTop[r], titleY: cRowTitle[r], title: t,
    max: cYMax[r][c], step: cYStep[r][c],
    series: [{ data: cHyp[r][c], errors: cErr[r][c], style: hypStyle }, { data: cNorm[r][c], style: normStyle }]
})));

// ---------- build panel b ----------
const bCon = [bHausp1Con, bAc1Con, bHausp2Con, bAc2Con];
const bSi = [bHausp1Si, bAc1Si, bHausp2Si, bAc2Si];
const bErr = [bHausp1Err, bAc1Err, bHausp2Err, bAc2Err];
bTargets.forEach((t, r) => bGenes.forEach((g, c) => lineCell({
    x: bColX[c], r: bColR[c], zero: bRowZero[r], top: bRowTop[r], titleY: bRowTitle[r], title: t, dx: 6,
    max: bYMax[r][c], step: bYStep[r][c],
    series: [{ data: bCon[r][c], errors: bErr[r][c], style: ctlStyleB }, { data: bSi[r][c], style: siStyleB }]
})));

// ---------- build panel d ----------
const dCon = [dHausp1Con, dAc1Con, dHausp2Con, dAc2Con];
const dSi = [dHausp1Si, dAc1Si, dHausp2Si, dAc2Si];
const dErr = [dHausp1Err, dAc1Err, dHausp2Err, dAc2Err];
dTargets.forEach((t, r) => dGenes.forEach((g, c) => lineCell({
    x: dColX[c], r: dColR[c], zero: dRowZero[r], top: dRowTop[r], titleY: dRowTitle[r], title: t, dx: dTitleDx[r][c],
    max: dYMax[r][c], step: dYStep[r][c], tickSize: (r === 1 && c === 2) ? 9 : 11,
    series: [{ data: dCon[r][c], errors: dErr[r][c], style: ctlStyleD }, { data: dSi[r][c], style: siStyleD }]
})));

// ---------- gene maps ----------
const twist1Def = { exonPos: twist1ExonPos, exonLbl: twist1ExonLbl, exonThick: twist1ExonThick, primerPos: twist1PrimerPos, primerLbl: twist1PrimerLbl, end: 'arrow' };
const vegfDef = { exonPos: vegfExonPos, exonLbl: vegfExonLbl, exonThick: vegfExonThick, primerPos: vegfPrimerPos, primerLbl: vegfPrimerLbl, end: 'tri' };
const glut1Def = { exonPos: glut1ExonPos, exonLbl: glut1ExonLbl, exonThick: glut1ExonThick, primerPos: glut1PrimerPos, primerLbl: glut1PrimerLbl, end: 'tri' };
const acStyle = { exonR: 8.5, thickW: 5.5, thinW: 2, dashR: 3.4, dashW: 3, exonFont: 10, primerFont: 9 };

geneCell(twist1Def, 40, 133, 87, Object.assign({ dy: 17 }, acStyle));
geneCell(vegfDef, 191, 131, 87, Object.assign({ dy: 17 }, acStyle));
geneCell(glut1Def, 343, 172, 87, Object.assign({ dy: 17 }, acStyle));
geneCell(twist1Def, 590, 136, 70, Object.assign({ dy: 18 }, acStyle));
geneCell(vegfDef, 744, 133, 70, Object.assign({ dy: 18 }, acStyle));
geneCell(glut1Def, 897, 178, 70, Object.assign({ dy: 18 }, acStyle));

const bdStyle = { exonR: 6.5, thickW: 3, thinW: 3, dashR: 3, dashW: 3, exonFont: 9.5, primerFont: 9 };
geneCell({ exonPos: ecadExonPos, exonLbl: ecadExonLbl, primerPos: ecadPrimerPos, primerLbl: ecadPrimerLbl, end: 'arrow' }, 50, 102, 945, Object.assign({ dy: 12 }, bdStyle));
geneCell({ exonPos: ncadExonPos, exonLbl: ncadExonLbl, primerPos: ncadPrimerPos, primerLbl: ncadPrimerLbl, end: 'arrow' }, 183, 91, 945, Object.assign({ dy: 12 }, bdStyle));
geneCell({ exonPos: actbExonPos, exonLbl: actbExonLbl, primerPos: actbPrimerPos, primerLbl: actbPrimerLbl, end: 'arrow' }, 302, 103, 945, Object.assign({ dy: 12 }, bdStyle));
geneCell({ exonPos: gapdhExonPos, exonLbl: gapdhExonLbl, primerPos: gapdhPrimerPos, primerLbl: gapdhPrimerLbl, end: 'arrow' }, 422, 98, 945, Object.assign({ dy: 12 }, bdStyle));
geneCell({ exonPos: ldhaExonPos, exonLbl: ldhaExonLbl, primerPos: ldhaPrimerPos, primerLbl: ldhaPrimerLbl, end: 'tri' }, 610, 105, 946, Object.assign({ dy: 14 }, bdStyle));
geneCell({ exonPos: tfrcExonPos, exonLbl: tfrcExonLbl, primerPos: tfrcPrimerPos, primerLbl: tfrcPrimerLbl, end: 'tri' }, 772, 103, 946, Object.assign({ dy: 14 }, bdStyle));
geneCell({ exonPos: raraExonPos, exonLbl: raraExonLbl, primerPos: raraPrimerPos, primerLbl: raraPrimerLbl, end: 'arrow' }, 952, 105, 946, Object.assign({ dy: 14 }, bdStyle));

// ---------- text labels ----------
txt('a', 38, 35, 27); txt('c', 598, 21, 27); txt('b', 37, 876, 27); txt('d', 575, 877, 27);
txt('SAS', 22, 140, 14); txt('PC3', 576, 121, 14);
txt('H1299', 31, 1015, 13); txt('MDA-MB-231', 55, 1207, 13);
txt('H1299', 588, 1000, 13); txt('MDA-MB-231', 607, 1202, 13);
[[115, 28], [267, 28], [444, 28]].forEach((p, i) => txt(aGenes[i], p[0], p[1], 11.5, true));
[[652, 18], [809, 18], [983, 18]].forEach((p, i) => txt(aGenes[i], p[0], p[1], 11.5, true));
[[99, 893], [231, 893], [350, 893], [487, 893]].forEach((p, i) => txt(bGenes[i], p[0], p[1], 11.5, true));
[[660, 893], [829, 893], [993, 893]].forEach((p, i) => txt(dGenes[i], p[0], p[1], 11.5, true));

// ---------- legends ----------
legendItem(167, 848, 30, { color: '#111', lw: 2.5, marker: 'rect' }, 'con', 15);
legendItem(278, 848, 44, { color: '#a9a9a9', lw: 2.5, marker: 'tri', mstroke: '#777' }, 'HAUSP-si', 15);
legendItem(688, 848, 45, { color: '#8c8c8c', lw: 2.5, dash: '6 5', marker: 'rect' }, 'Normoxia', 15);
legendItem(842, 848, 46, { color: '#111', lw: 2.5, marker: 'tri', mstroke: '#555' }, 'Hypoxia', 15);
legendItem(208, 1423, 25, { color: '#111', lw: 2.5, marker: 'rect' }, 'Control', 14);
legendItem(302, 1423, 22, { color: '#888', lw: 2, dash: '5 3', marker: 'tri', mstroke: '#777' }, 'HAUSP-si', 14);
legendItem(771, 1423, 24, { color: '#111', lw: 2.5, marker: 'rect' }, 'Control', 14);
legendItem(867, 1423, 22, { color: '#888', lw: 2, dash: '5 3', marker: 'tri', mstroke: '#777' }, 'HAUSP-si', 14);
</script>
</body>
</html>
